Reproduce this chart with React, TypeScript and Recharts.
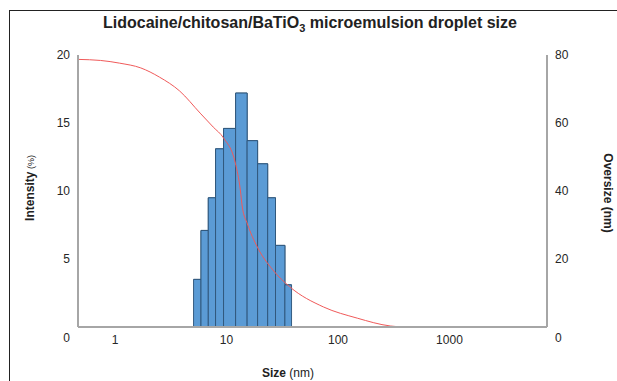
import React from "react";
import {
  ComposedChart,
  Line,
  Area,
  XAxis,
  YAxis,
  ReferenceArea,
} from "recharts";

// histogram bins (nm) and intensity (%)
const binEdges = [5.06, 5.9, 6.86, 7.97, 9.4, 12.06, 15.3, 19.0, 23.4, 27.5, 33.4, 38.3];
const intensity = [3.5, 7.1, 9.5, 13.1, 14.6, 17.2, 13.7, 12.0, 9.5, 6.0, 3.1];

// cumulative oversize curve
const curveSize = [0.47, 0.74, 1.1, 1.7, 2.5, 3.8, 5.8, 7.6, 9.4, 12, 13.3, 13.85, 15.4, 18.9, 26, 37, 74, 149, 294, 385];
const oversize = [78.7, 78.4, 77.6, 76.2, 73.5, 69.4, 62.9, 58.8, 55.6, 48.2, 40.3, 35.3, 30.3, 23.5, 16.8, 11.8, 5.9, 2.6, 0.3, 0];

const xTicks = [1, 10, 100, 1000];
const leftTicks = [0, 5, 10, 15, 20];
const rightTicks = [0, 20, 40, 60, 80];

const curveData = curveSize.map((s, i) => ({ size: s, oversize: oversize[i] }));
const histData = binEdges.map((e, i) => ({
  size: e,
  intensity: intensity[Math.min(i, intensity.length - 1)],
}));

const FONT = "'Liberation Sans', Arial, sans-serif";
const AXIS_GREY = "#a6a6a6";
const BAR_FILL = "#5b9bd5";
const BAR_EDGE = "#2f5478";

function LeftTick(props: any) {
  const { x, y, payload } = props;
  return (
    <text x={x} y={y} dy={payload.value === 0 ? 15 : 4} textAnchor="end" fontSize={12} fill="#262626" fontFamily={FONT}>
      {payload.value}
    </text>
  );
}

function RightTick(props: any) {
  const { x, y, payload } = props;
  return (
    <text x={x} y={y} dy={payload.value === 0 ? 15 : 4} textAnchor="start" fontSize={12} fill="#262626" fontFamily={FONT}>
      {payload.value}
    </text>
  );
}

function BottomTick(props: any) {
  const { x, y, payload } = props;
  return (
    <text x={x} y={y} dy={9} textAnchor="middle" fontSize={12} fill="#262626" fontFamily={FONT}>
      {payload.value}
    </text>
  );
}

export default function App() {
  return (
    <div style={{ position: "absolute", left: 0, top: 0, width: 617, height: 381, overflow: "hidden", background: "#fff" }}>
      <div
        style={{
          position: "absolute",
          left: 9,
          top: 10,
          width: 800,
          height: 600,
          borderLeft: "1px solid #222",
          borderTop: "1px solid #222",
        }}
      />
      <div style={{ position: "absolute", left: 0, top: 0 }}>
        <ComposedChart
          width={617}
          height={381}
          margin={{ top: 55, right: 0, bottom: 0, left: 0 }}
        >
          <XAxis
            dataKey="size"
            type="number"
            scale="log"
            domain={[0.465, 7500]}
            allowDataOverflow
            ticks={xTicks}
            tick={<BottomTick />}
            tickLine={false}
            axisLine={{ stroke: AXIS_GREY, strokeWidth: 2 }}
            height={54}
          />
          <YAxis
            yAxisId="left"
            type="number"
            domain={[0, 20]}
            ticks={leftTicks}
            tick={<LeftTick />}
            tickLine={false}
            axisLine={{ stroke: AXIS_GREY, strokeWidth: 2 }}
            width={78}
          />
          <YAxis
            yAxisId="right"
            type="number"
            orientation="right"
            domain={[0, 80]}
            ticks={rightTicks}
            tick={<RightTick />}
            tickLine={false}
            axisLine={{ stroke: AXIS_GREY, strokeWidth: 2 }}
            width={70}
          />
          <Area
            yAxisId="left"
            data={histData}
            dataKey="intensity"
            type="stepAfter"
            fill={BAR_FILL}
            fillOpacity={1}
            stroke={BAR_EDGE}
            strokeWidth={1}
            dot={false}
            activeDot={false}
            isAnimationActive={false}
          />
          {intensity.map((v, i) => (
            <ReferenceArea
              key={i}
              yAxisId="left"
              x1={binEdges[i]}
              x2={binEdges[i + 1]}
              y1={0}
              y2={v}
              fill={BAR_FILL}
              fillOpacity={1}
              stroke={BAR_EDGE}
              strokeWidth={1}
              strokeOpacity={0.9}
            />
          ))}
          <Line
            yAxisId="right"
            data={curveData}
            dataKey="oversize"
            type="monotone"
            stroke="#f05a5a"
            strokeWidth={1}
            dot={false}
            activeDot={false}
            isAnimationActive={false}
          />
        </ComposedChart>
      </div>
      <svg width={617} height={381} style={{ position: "absolute", left: 0, top: 0, pointerEvents: "none" }}>
        <text x={310} y={28} textAnchor="middle" fontSize={16} fontWeight="bold" fill="#222" fontFamily={FONT}>
          Lidocaine/chitosan/BaTiO
          <tspan dy={4} fontSize={11}>3</tspan>
          <tspan dy={-4}> microemulsion droplet size</tspan>
        </text>
        <text x={288} y={377} textAnchor="middle" fontSize={12} fontFamily={FONT} fill="#222">
          <tspan fontWeight="bold">Size</tspan>
          <tspan> (nm)</tspan>
        </text>
        <text
          x={0}
          y={0}
          transform="translate(34,188) rotate(-90)"
          textAnchor="middle"
          fontSize={12}
          fontFamily={FONT}
          fill="#222"
        >
          <tspan fontWeight="bold">Intensity</tspan>
          <tspan fontSize={9}> (%)</tspan>
        </text>
        <text
          x={0}
          y={0}
          transform="translate(604,193) rotate(90)"
          textAnchor="middle"
          fontSize={12}
          fontWeight="bold"
          fontFamily={FONT}
          fill="#222"
        >
          Oversize (nm)
        </text>
      </svg>
    </div>
  );
}
